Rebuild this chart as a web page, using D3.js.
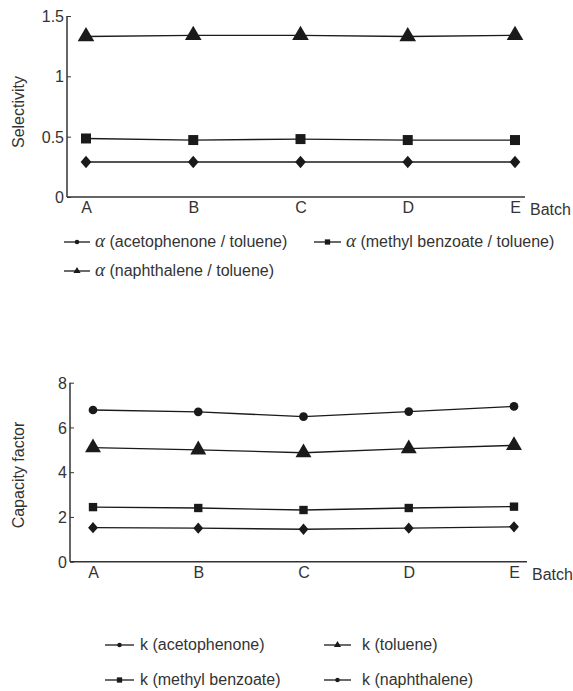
<!DOCTYPE html>
<html><head><meta charset="utf-8">
<script src="https://cdn.jsdelivr.net/npm/d3@7"></script>
<style>
body{margin:0;background:#fff;}
text{font-family:"Liberation Sans",Arial,sans-serif;fill:#333;}
</style></head>
<body>
<svg id="c" width="573" height="691"></svg>
<script>
const batches = ["A","B","C","D","E"];
const selTicks = [0, 0.5, 1, 1.5];
const alphaAceto = [0.29, 0.29, 0.29, 0.29, 0.29];
const alphaMB = [0.485, 0.472, 0.48, 0.472, 0.472];
const alphaNaph = [1.33, 1.34, 1.34, 1.33, 1.34];
const capTicks = [0, 2, 4, 6, 8];
const kNaph = [6.78, 6.70, 6.48, 6.71, 6.94];
const kTol = [5.1, 5.0, 4.87, 5.05, 5.2];
const kMB = [2.44, 2.40, 2.31, 2.40, 2.46];
const kAceto = [1.52, 1.50, 1.45, 1.50, 1.56];

const svg = d3.select("#c");
const col = "#1a1a1a";

const diamondSym = {
  draw(ctx, size) {
    const w = Math.sqrt(size) * 0.55, h = w * 1.15;
    ctx.moveTo(0, -h); ctx.lineTo(w, 0); ctx.lineTo(0, h); ctx.lineTo(-w, 0); ctx.closePath();
  }
};

function marker(g, type, x, y, s) {
  let sym;
  if (type === "tri") sym = d3.symbolTriangle;
  else if (type === "sq") sym = d3.symbolSquare;
  else if (type === "dia") sym = diamondSym;
  else sym = d3.symbolCircle;
  g.append("path").attr("d", d3.symbol(sym, s)()).attr("transform", `translate(${x},${y})`).attr("fill", col);
}

function panel(opt) {
  const x = d3.scalePoint().domain(batches).range([opt.x0, opt.x1]);
  const y = d3.scaleLinear().domain(opt.domain).range([opt.yb, opt.yt]);
  const g = svg.append("g");
  const ya = g.append("g").attr("transform", `translate(${opt.ax},0)`)
    .call(d3.axisRight(y).tickValues(opt.ticks).tickSize(4).tickFormat(d => d3.format("~g")(d)));
  ya.select(".domain").attr("d", `M0,${opt.yb}V${opt.yt}`).attr("stroke", "#333").attr("stroke-width", 1.5);
  ya.selectAll(".tick line").attr("stroke", "#333");
  ya.selectAll(".tick text").attr("x", -3).attr("dy", "0.35em").attr("text-anchor", "end").attr("font-size", 16).attr("fill", "#333");
  const xa = g.append("g").attr("transform", `translate(0,${opt.yb})`)
    .call(d3.axisBottom(x).tickSize(0).tickPadding(5));
  xa.select(".domain").attr("d", `M${opt.ax},0H${opt.xend}`).attr("stroke", "#333").attr("stroke-width", 1.5);
  xa.selectAll(".tick text").attr("font-size", 16).attr("fill", "#333");
  g.append("text").attr("x", opt.xend + 5).attr("y", opt.yb + 18).attr("font-size", 16).text("Batch");
  g.append("text").attr("transform", `translate(${opt.ylx},${opt.ylc}) rotate(-90)`)
    .attr("text-anchor", "middle").attr("font-size", 16).text(opt.ylabel);
  const line = d3.line().x((d, i) => x(batches[i])).y(d => y(d));
  opt.series.forEach(s => {
    g.append("path").attr("d", line(s.v)).attr("fill", "none").attr("stroke", col).attr("stroke-width", 1.3);
    s.v.forEach((d, i) => marker(g, s.m, x(batches[i]), y(d), s.size));
  });
}

panel({x0: 86, x1: 515, ax: 67, xend: 525, yb: 197, yt: 16, domain: [0, 1.5], ticks: selTicks,
  ylabel: "Selectivity", ylx: 24, ylc: 112,
  series: [{v: alphaAceto, m: "dia", size: 95}, {v: alphaMB, m: "sq", size: 100}, {v: alphaNaph, m: "tri", size: 120}]});

panel({x0: 93, x1: 514, ax: 70, xend: 527, yb: 561.7, yt: 382.7, domain: [0, 8], ticks: capTicks,
  ylabel: "Capacity factor", ylx: 24, ylc: 475,
  series: [{v: kNaph, m: "circ", size: 60}, {v: kTol, m: "tri", size: 110}, {v: kMB, m: "sq", size: 70}, {v: kAceto, m: "dia", size: 80}]});

function legendItem(x, y, len, tx, m, size, parts) {
  const g = svg.append("g");
  g.append("line").attr("x1", x).attr("x2", x + len).attr("y1", y).attr("y2", y).attr("stroke", col).attr("stroke-width", 1.3);
  marker(g, m, x + len / 2, y, size);
  const t = g.append("text").attr("x", tx).attr("y", y + 5).attr("font-size", 16);
  parts.forEach(p => {
    const ts = t.append("tspan").text(p.t);
    if (p.a) ts.attr("font-family", "Liberation Serif, Times New Roman, serif").attr("font-style", "italic").attr("font-size", 19);
  });
}
legendItem(64, 242, 26, 95, "circ", 16, [{t: "α", a: true}, {t: " (acetophenone / toluene)"}]);
legendItem(314, 242, 27, 346, "sq", 28, [{t: "α", a: true}, {t: " (methyl benzoate / toluene)"}]);
legendItem(64, 271, 26, 95, "tri", 22, [{t: "α", a: true}, {t: " (naphthalene / toluene)"}]);

legendItem(105, 645, 29, 140, "circ", 16, [{t: "k (acetophenone)"}]);
legendItem(324, 645, 27, 362, "tri", 22, [{t: "k (toluene)"}]);
legendItem(105, 680, 29, 140, "sq", 28, [{t: "k (methyl benzoate)"}]);
legendItem(324, 680, 27, 362, "circ", 16, [{t: "k (naphthalene)"}]);
</script>
</body></html>
